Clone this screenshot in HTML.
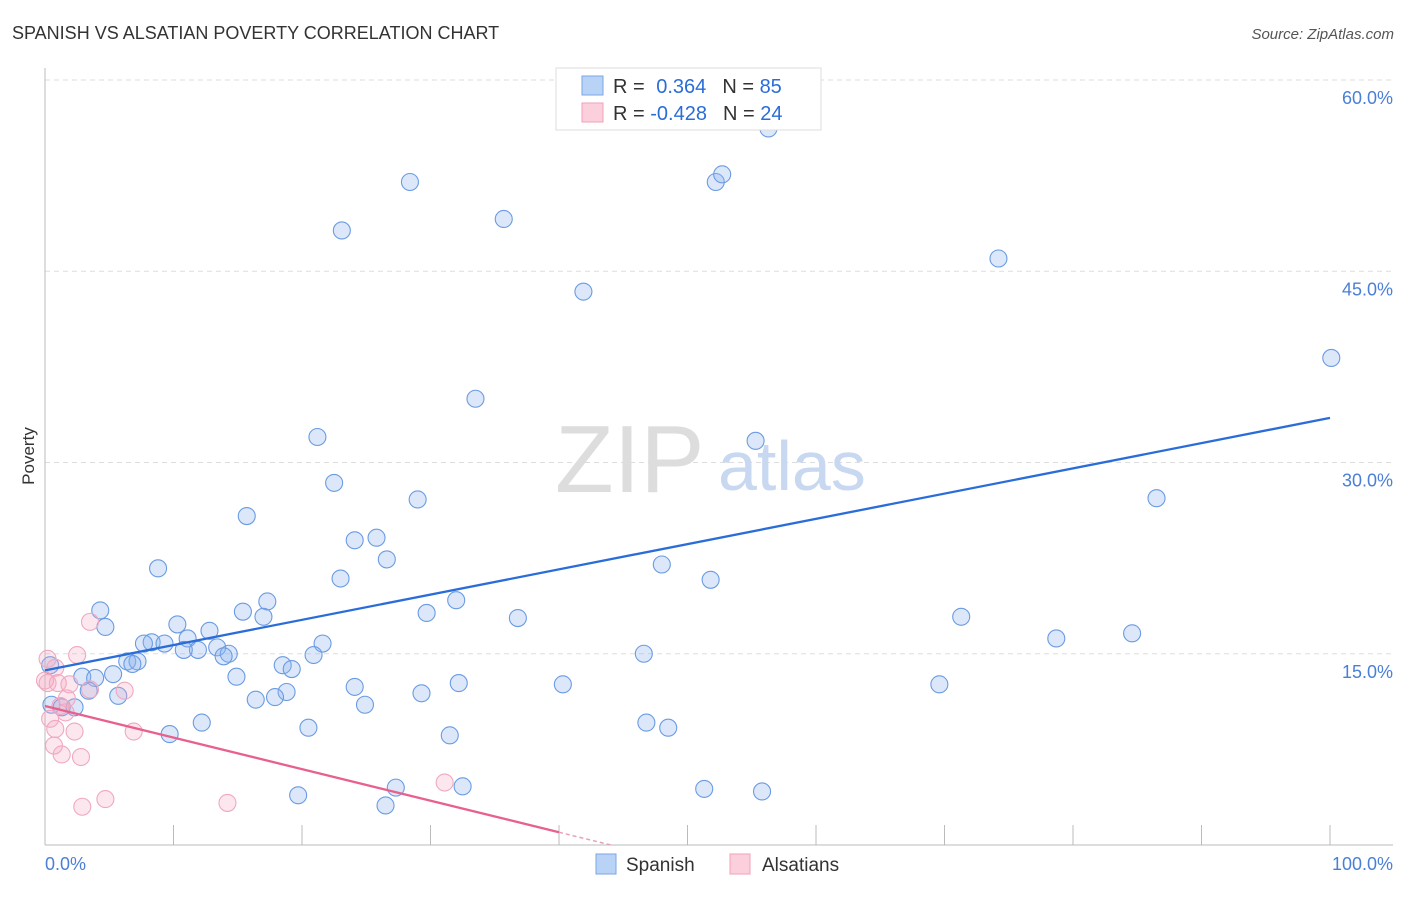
<!DOCTYPE html>
<html><head><meta charset="utf-8"><style>
body{margin:0;background:#fff;font-family:"Liberation Sans",sans-serif}
svg text{font-family:"Liberation Sans",sans-serif}
</style></head><body>
<svg width="1406" height="892" viewBox="0 0 1406 892">
<text x="12" y="39" font-size="18" fill="#333">SPANISH VS ALSATIAN POVERTY CORRELATION CHART</text>
<text x="1394" y="39" font-size="15" fill="#555" font-style="italic" text-anchor="end">Source: ZipAtlas.com</text>
<g id="grid"></g>
<g id="axes"></g>
<text x="555" y="492" font-size="96" fill="#ddd" font-family="Liberation Serif">ZIP</text>
<text x="718" y="490" font-size="70" fill="#c8d8f0">atlas</text>
<g id="pts"></g>
<g id="lines"></g>
<text transform="translate(34,456) rotate(-90)" font-size="17" fill="#333" text-anchor="middle">Poverty</text>
<text x="45" y="870" font-size="18" fill="#4a7fd6">0.0%</text>
<text x="1393" y="870" font-size="18" fill="#4a7fd6" text-anchor="end">100.0%</text>
<g>
<rect x="556" y="68" width="265" height="62" fill="#fff" stroke="#ddd"/>
<rect x="582" y="76" width="21" height="19" fill="#b9d3f7" stroke="#7aa6e6"/>
<text x="613" y="93" font-size="20" fill="#333">R = <tspan fill="#2a6dd9" dx="6">0.364</tspan><tspan dx="16">N = </tspan><tspan fill="#2a6dd9">85</tspan></text>
<rect x="582" y="103" width="21" height="19" fill="#fbd0dc" stroke="#f0a0b8"/>
<text x="613" y="120" font-size="20" fill="#333">R = <tspan fill="#2a6dd9">-0.428</tspan><tspan dx="16">N = </tspan><tspan fill="#2a6dd9">24</tspan></text>
</g>
<g>
<rect x="596" y="854" width="20" height="20" fill="#b9d3f7" stroke="#7aa6e6"/>
<text x="626" y="871" font-size="19" fill="#333">Spanish</text>
<rect x="730" y="854" width="20" height="20" fill="#fbd0dc" stroke="#f0a0b8"/>
<text x="762" y="871" font-size="19" fill="#333">Alsatians</text>
</g>
</svg>
<script>
const spanishX=[56.3,28.4,52.2,52.7,23.1,35.7,74.2,41.9,100.1,33.5,21.2,55.3,22.5,29.0,86.5,15.7,25.8,24.1,26.6,8.8,48.0,23.0,51.8,17.3,32.0,4.3,15.4,17.0,29.7,36.8,71.3,4.7,10.3,12.8,8.3,7.7,9.3,11.1,21.6,78.7,84.6,13.4,11.9,10.8,14.3,13.9,20.9,46.6,6.4,7.2,6.8,18.5,19.2,0.4,5.3,14.9,2.9,3.9,24.1,32.2,40.3,69.6,3.4,18.8,5.7,29.3,16.4,17.9,24.9,0.5,1.3,2.3,12.2,20.5,46.8,48.5,9.7,31.5,27.3,32.5,19.7,51.3,55.8,26.5];
const spanishY=[56.2,52.0,52.0,52.6,48.2,49.1,46.0,43.4,38.2,35.0,32.0,31.7,28.4,27.1,27.2,25.8,24.1,23.9,22.4,21.7,22.0,20.9,20.8,19.1,19.2,18.4,18.3,17.9,18.2,17.8,17.9,17.1,17.3,16.8,15.9,15.8,15.8,16.2,15.8,16.2,16.6,15.5,15.3,15.3,15.0,14.8,14.9,15.0,14.4,14.4,14.2,14.1,13.8,14.1,13.4,13.2,13.2,13.1,12.4,12.7,12.6,12.6,12.1,12.0,11.7,11.9,11.4,11.6,11.0,11.0,10.8,10.8,9.6,9.2,9.6,9.2,8.7,8.6,4.5,4.6,3.9,4.4,4.2,3.1];
const alsatianX=[3.5,0.2,2.5,0.8,0.2,1.0,1.9,3.5,6.2,1.7,1.6,0.4,0.8,2.3,6.9,1.3,0.7,2.8,31.1,4.7,2.9,14.2,1.2,0.0];
const alsatianY=[17.5,14.6,14.9,13.9,12.7,12.7,12.6,12.2,12.1,11.5,10.4,9.9,9.1,8.9,8.9,7.1,7.8,6.9,4.9,3.6,3.0,3.3,10.9,12.9];
const spanishTrendY=[13.7,33.5];
const alsatianTrendY=[10.9,1.0];
const alsatianTrendX=[0,40];
const yTicks=[15,30,45,60];
const xTickVals=[10,20,30,40,50,60,70,80,90,100];
const X0=45,X1=1330,YB=845,PXPER=12.75;
const sx=v=>X0+(X1-X0)*v/100;
const sy=v=>YB-PXPER*v;
const NS='http://www.w3.org/2000/svg';
function mk(tag,attrs,parent){const e=document.createElementNS(NS,tag);for(const k in attrs)e.setAttribute(k,attrs[k]);parent.appendChild(e);return e;}
const grid=document.getElementById('grid'),axes=document.getElementById('axes'),pts=document.getElementById('pts'),lines=document.getElementById('lines');
yTicks.forEach(t=>{
 const l=mk('line',{x1:45,x2:1393,y1:sy(t),y2:sy(t),stroke:'#ddd','stroke-dasharray':'5,4'},grid);
 
 
 const tx=mk('text',{x:1393,y:sy(t)+24,'font-size':18,fill:'#4a7fd6','text-anchor':'end'},grid);
 tx.textContent=t.toFixed(1)+'%';
 
 
});
const ya=mk('line',{x1:45,x2:45,y1:68,y2:845,stroke:'#bbb'},axes);


const xa=mk('line',{x1:45,x2:1393,y1:845,y2:845,stroke:'#bbb'},axes);


xTickVals.forEach(t=>{
 const l=mk('line',{x1:sx(t),x2:sx(t),y1:825,y2:845,stroke:'#bbb'},axes);
 
 
});
spanishX.forEach((v,i)=>{
 const c=mk('circle',{cx:sx(v),cy:sy(spanishY[i]),r:8.5,fill:'rgba(140,180,240,0.3)',stroke:'#6a9be2','stroke-width':1.1},pts);
 
 
});
alsatianX.forEach((v,i)=>{
 const c=mk('circle',{cx:sx(v),cy:sy(alsatianY[i]),r:8.5,fill:'rgba(245,170,195,0.28)',stroke:'#f0a8c0','stroke-width':1.1},pts);
 
 
});
const bl=mk('line',{x1:sx(0),y1:sy(spanishTrendY[0]),x2:sx(100),y2:sy(spanishTrendY[1]),stroke:'#2a6dd9','stroke-width':2.3},lines);


const pl=mk('line',{x1:sx(alsatianTrendX[0]),y1:sy(alsatianTrendY[0]),x2:sx(alsatianTrendX[1]),y2:sy(alsatianTrendY[1]),stroke:'#e8608e','stroke-width':2.3},lines);


const slope=(alsatianTrendY[1]-alsatianTrendY[0])/(alsatianTrendX[1]-alsatianTrendX[0]);
const xz=alsatianTrendX[1]-alsatianTrendY[1]/slope;
const pd=mk('line',{x1:sx(alsatianTrendX[1]),y1:sy(alsatianTrendY[1]),x2:sx(xz),y2:sy(0),stroke:'#e8a0b8','stroke-width':1.5,'stroke-dasharray':'4,3'},lines);


</script>
</body></html>
